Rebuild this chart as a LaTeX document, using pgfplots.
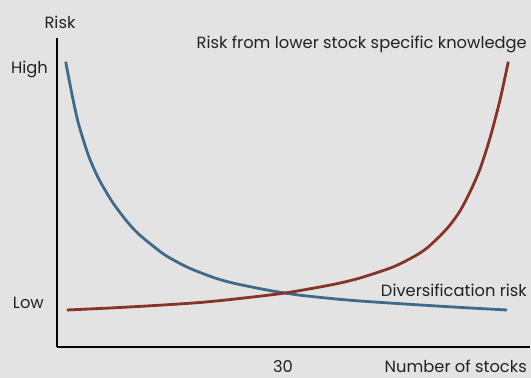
\documentclass[border=0pt]{standalone}
\usepackage{pgfplots}
\pgfplotsset{compat=1.18}
\usepackage{fontspec}
\setmainfont{Poppins}
\definecolor{bg}{HTML}{E3E3E3}
\definecolor{bluec}{HTML}{3F6A8A}
\definecolor{redc}{HTML}{863329}
\definecolor{txt}{HTML}{222222}
\newcommand\lf{\fontsize{16.3pt}{18pt}\selectfont\color{txt}}
\begin{document}
\begin{tikzpicture}
\fill[bg] (0,0) rectangle (531pt,378pt);
\useasboundingbox (0,0) rectangle (531pt,378pt);
\begin{axis}[
  at={(57pt,31pt)}, anchor=south west,
  x=1pt, y=1pt,
  xmin=57, xmax=530, ymin=31, ymax=340,
  axis lines=left,
  axis line style={-, line width=1.1pt, black},
  xtick=\empty, ytick=\empty,
  clip=false,
]
% Diversification risk (blue), y = 378 - pixel y
\addplot[bluec, line width=2.8pt, smooth, tension=0.45] coordinates {
(65.7,316.3) (71.7,285) (78.3,255) (88.3,223) (98.3,200) (111.7,177)
(125,159) (135,147.5) (145,138.5) (165,123) (188,110.5) (215,100) (235,94.5)
(267,88) (285,85) (300,82.8) (333,79.3) (360,77) (400,74.3) (427,72.6)
(460,70.6) (507,68)
};
% Risk from lower stock specific knowledge (red)
\addplot[redc, line width=2.8pt, smooth, tension=0.45] coordinates {
(67,68) (110,70) (155,72.5) (200,75.5) (235,79) (285,85) (333,93.5)
(360,100) (393,111) (415,122) (427,130) (440,142) (450,153) (460,167)
(470,186) (480,209) (490,240) (500,278) (508.3,316.3)
};
\node[anchor=base, inner sep=0pt] at (axis cs:60,349) {\lf Risk};
\node[anchor=base east, inner sep=0pt] at (axis cs:48,304) {\lf High};
\node[anchor=base east, inner sep=0pt] at (axis cs:44,69) {\lf Low};
\node[anchor=base, inner sep=0pt] at (axis cs:283,5.5) {\lf 30};
\node[anchor=base east, inner sep=0pt] at (axis cs:527,5.5) {\lf Number of stocks};
\node[anchor=base east, inner sep=0pt] at (axis cs:527,329) {\lf Risk from lower stock specific knowledge};
\node[anchor=base east, inner sep=0pt] at (axis cs:527,81) {\lf Diversification risk};
\end{axis}
\end{tikzpicture}
\end{document}
